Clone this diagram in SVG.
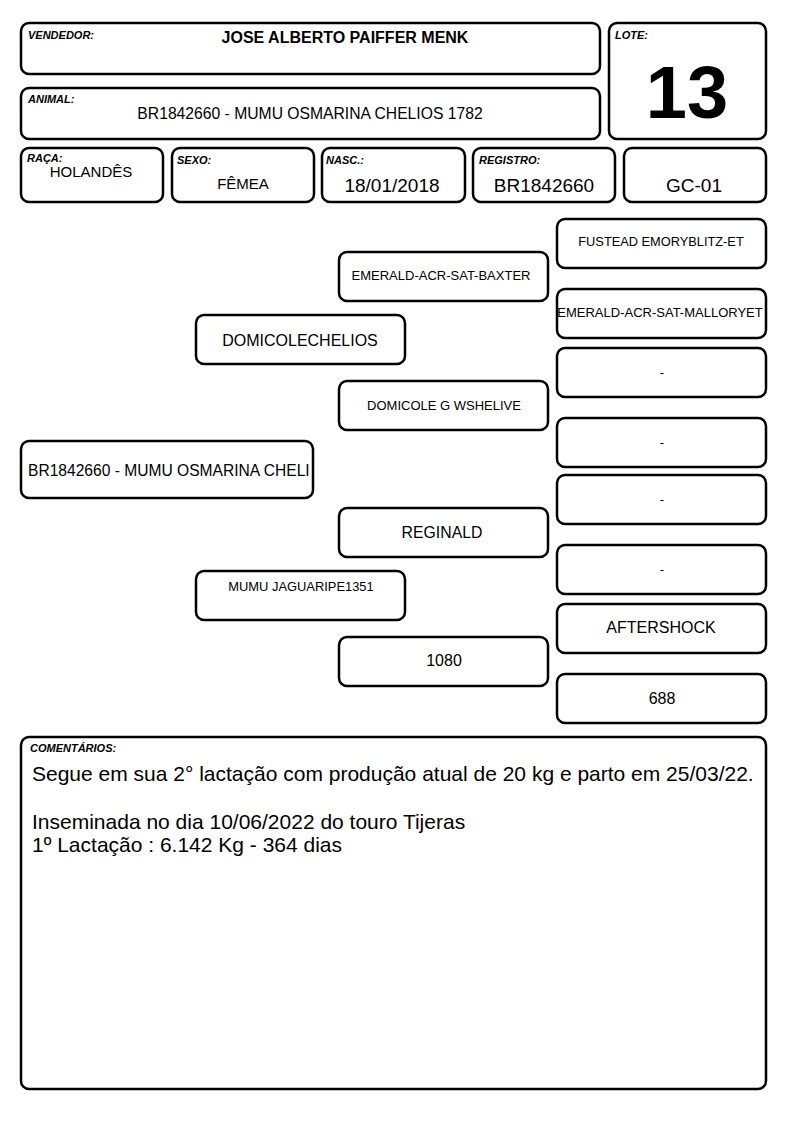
<svg xmlns="http://www.w3.org/2000/svg" width="794" height="1123" viewBox="0 0 794 1123">
<style>
.b{fill:#fff;stroke:#000;stroke-width:2.5}
.l{font-family:"Liberation Sans",Arial,sans-serif;font-size:11px;font-weight:bold;font-style:italic;fill:#000}
.t{font-family:"Liberation Sans",Arial,sans-serif;fill:#000;text-anchor:middle}
.c{font-family:"Liberation Sans",Arial,sans-serif;fill:#000;font-size:21px}
</style>
<rect width="794" height="1123" fill="#fff"/>
<g id="vendedor"><rect class="b" x="21" y="23" width="579" height="51" rx="8"/><text class="l" x="28" y="39">VENDEDOR:</text><text class="t" x="345" y="43" font-size="16" font-weight="bold">JOSE ALBERTO PAIFFER MENK</text></g>
<g id="animal"><rect class="b" x="21" y="88" width="579" height="51" rx="8"/><text class="l" x="28" y="103">ANIMAL:</text><text class="t" x="310" y="119" font-size="15.7">BR1842660 - MUMU OSMARINA CHELIOS 1782</text></g>
<g id="lote"><rect class="b" x="609" y="23" width="157" height="116" rx="8"/><text class="l" x="615" y="39">LOTE:</text><text class="t" x="687" y="118" font-size="74" font-weight="bold">13</text></g>
<g id="raca"><rect class="b" x="21" y="148" width="142" height="54" rx="8"/><text class="l" x="27" y="162">RAÇA:</text><text class="t" x="91" y="177" font-size="15">HOLANDÊS</text></g>
<g id="sexo"><rect class="b" x="172" y="148" width="142" height="54" rx="8"/><text class="l" x="177" y="164">SEXO:</text><text class="t" x="243" y="189" font-size="15">FÊMEA</text></g>
<g id="nasc"><rect class="b" x="322" y="148" width="143" height="54" rx="8"/><text class="l" x="326" y="164">NASC.:</text><text class="t" x="392" y="192" font-size="19">18/01/2018</text></g>
<g id="registro"><rect class="b" x="473" y="148" width="142" height="54" rx="8"/><text class="l" x="479" y="164">REGISTRO:</text><text class="t" x="544" y="192" font-size="19">BR1842660</text></g>
<g id="gc"><rect class="b" x="624" y="148" width="142" height="54" rx="8"/><text class="t" x="694" y="192" font-size="19">GC-01</text></g>

<g id="p-fustead"><rect class="b" x="557" y="219" width="209" height="49" rx="8"/><text class="t" x="661" y="246" font-size="12.8">FUSTEAD EMORYBLITZ-ET</text></g>
<g id="p-baxter"><rect class="b" x="339" y="252" width="209" height="49" rx="8"/><text class="t" x="441" y="280" font-size="13">EMERALD-ACR-SAT-BAXTER</text></g>
<g id="p-mallory"><rect class="b" x="557" y="289" width="209" height="49" rx="8"/><text class="t" x="660" y="317" font-size="13">EMERALD-ACR-SAT-MALLORYET</text></g>
<g id="p-domicolechelios"><rect class="b" x="196" y="315" width="209" height="49" rx="8"/><text class="t" x="300" y="346" font-size="16">DOMICOLECHELIOS</text></g>
<g id="p-dash1"><rect class="b" x="557" y="348" width="209" height="49" rx="8"/><text class="t" x="662" y="377" font-size="13">-</text></g>
<g id="p-wshelive"><rect class="b" x="339" y="381" width="209" height="49" rx="8"/><text class="t" x="444" y="410" font-size="13">DOMICOLE G WSHELIVE</text></g>
<g id="p-dash2"><rect class="b" x="557" y="418" width="209" height="49" rx="8"/><text class="t" x="662" y="447" font-size="13">-</text></g>
<g id="p-animal"><rect class="b" x="21" y="441" width="292" height="57" rx="8"/><text font-family="Liberation Sans, Arial, sans-serif" font-size="15.6" x="28" y="476">BR1842660 - MUMU OSMARINA CHELI</text></g>
<g id="p-dash3"><rect class="b" x="557" y="475" width="209" height="49" rx="8"/><text class="t" x="662" y="504" font-size="13">-</text></g>
<g id="p-reginald"><rect class="b" x="339" y="508" width="209" height="49" rx="8"/><text class="t" x="442" y="538" font-size="15.8">REGINALD</text></g>
<g id="p-dash4"><rect class="b" x="557" y="545" width="209" height="49" rx="8"/><text class="t" x="662" y="574" font-size="13">-</text></g>
<g id="p-jaguaripe"><rect class="b" x="196" y="571" width="209" height="49" rx="8"/><text class="t" x="301" y="591" font-size="12.9">MUMU JAGUARIPE1351</text></g>
<g id="p-aftershock"><rect class="b" x="557" y="604" width="209" height="49" rx="8"/><text class="t" x="661" y="633" font-size="16">AFTERSHOCK</text></g>
<g id="p-1080"><rect class="b" x="339" y="637" width="209" height="49" rx="8"/><text class="t" x="444" y="666" font-size="16">1080</text></g>
<g id="p-688"><rect class="b" x="557" y="674" width="209" height="49" rx="8"/><text class="t" x="662" y="704" font-size="16">688</text></g>

<g id="comentarios"><rect class="b" x="21" y="737" width="745" height="352" rx="8"/><text class="l" x="30" y="752" font-size="10">COMENTÁRIOS:</text>
<text class="c" x="32" y="781">Segue em sua 2° lactação com produção atual de 20 kg e parto em 25/03/22.</text>
<text class="c" x="32" y="829">Inseminada no dia 10/06/2022 do touro Tijeras</text>
<text class="c" x="32" y="852">1º Lactação : 6.142 Kg - 364 dias</text></g>
<g id="connectors"/>
</svg>
